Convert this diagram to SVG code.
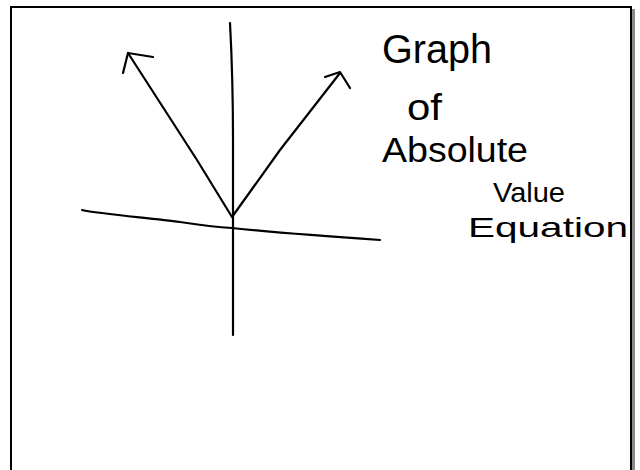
<svg xmlns="http://www.w3.org/2000/svg" width="640" height="470" viewBox="0 0 640 470">
  <style>
    .ink { fill: none; stroke: #000; stroke-width: 2.2; stroke-linecap: round; stroke-linejoin: round; }
    .hand { font-family: "Liberation Sans", "DejaVu Sans", sans-serif; fill: #000; }
  </style>
  <rect x="0" y="0" width="640" height="470" fill="#fff"/>
  <g id="frame">
    <rect x="631" y="9" width="4" height="470" fill="#8a8a8a"/>
    <path d="M11 480 L11 7 L631 7 L631 480" fill="none" stroke="#000" stroke-width="2"/>
  </g>
  <g id="axes">
    <path class="ink" d="M230 23 C232 60 233 100 233 140 L233 335"/>
    <path class="ink" d="M82 210 C100 214 150 218 180 222 C200 225 215 227 232 228 C270 232 320 236 380 240"/>
  </g>
  <g id="v-graph">
    <path class="ink" d="M128 53 L197 160 L232 217 L280 150 L340 73"/>
    <path class="ink" d="M123 73 L128 53 L153 57"/>
    <path class="ink" d="M325 77 L340 72 L350 88"/>
  </g>
  <g id="labels">
    <text class="hand" x="382" y="63" font-size="40" textLength="110" lengthAdjust="spacingAndGlyphs">Graph</text>
    <text class="hand" x="407" y="120" font-size="36" textLength="35" lengthAdjust="spacingAndGlyphs">of</text>
    <text class="hand" x="382" y="162" font-size="35" textLength="146" lengthAdjust="spacingAndGlyphs">Absolute</text>
    <text class="hand" x="493" y="202" font-size="28" textLength="72" lengthAdjust="spacingAndGlyphs">Value</text>
    <text class="hand" x="468" y="237" font-size="28" textLength="160" lengthAdjust="spacingAndGlyphs">Equation</text>
  </g>
</svg>
